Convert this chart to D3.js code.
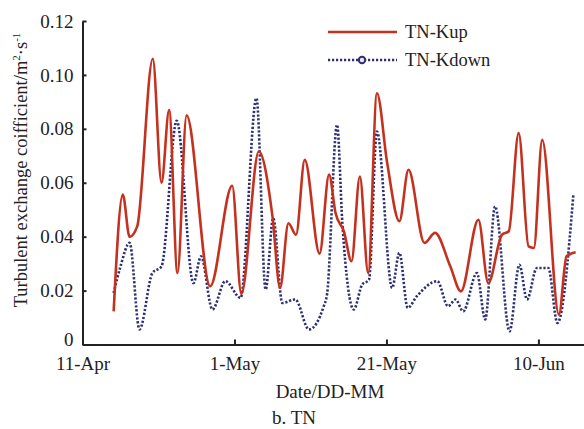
<html>
  <head>
    <title>TN turbulent exchange coefficient</title>
    <script type="text/javascript" src="https://cdn.jsdelivr.net/npm/d3@7"></script>
    <style>
      body { margin: 0; background: white; }
      text { font-family: "Liberation Serif", "Times New Roman", serif; fill: #222; }
    </style>
  </head>
  <body>
    <svg width="584" height="429" id="chart"></svg>
    <script type="text/javascript">
      // days counted from 11-Apr
      var kupDays = [4.1, 5.3, 6.2, 7.2, 9.25, 10.4, 11.4, 12.5, 13.7, 16.8,
        19.7, 20.9, 23.2, 25.0, 26.0, 27.1, 28.1, 29.25, 31.2, 32.45,
        33.3, 34.4, 35.4, 36.5, 37.6, 38.75, 40.1, 41.7, 42.9, 45.0,
        46.4, 48.4, 49.8, 52.1, 53.4, 55.2, 56.1, 57.4, 58.7, 59.4,
        60.5, 62.7, 63.7, 64.9];
      var kupValues = [0.0123, 0.0556, 0.0399, 0.0438, 0.106, 0.060, 0.087, 0.0265, 0.085, 0.0216,
        0.0589, 0.0188, 0.0716, 0.0475, 0.021, 0.045, 0.0407, 0.0685, 0.0337, 0.063,
        0.0488, 0.042, 0.0309, 0.0623, 0.0265, 0.0932, 0.0673, 0.0457, 0.0648, 0.0377,
        0.0414, 0.029, 0.0197, 0.0463, 0.0228, 0.0407, 0.042, 0.0784, 0.0364, 0.0358,
        0.0759, 0.0111, 0.0327, 0.0342];

      var kdownDays = [4.1, 5.0, 6.2, 7.5, 9.2, 10.4, 12.4, 14.6, 15.6, 17.1,
        18.8, 20.8, 22.9, 24.1, 25.1, 26.3, 28.0, 29.8, 31.75, 32.2,
        33.5, 34.2, 35.7, 36.8, 37.7, 38.75, 40.75, 41.7, 42.8, 44.0,
        46.7, 48.1, 49.1, 50.1, 51.9, 53.0, 54.3, 56.2, 57.5, 58.5,
        59.8, 61.3, 62.5, 64.6];
      var kdownValues = [0.0191, 0.029, 0.0377, 0.0056, 0.0265, 0.029, 0.083, 0.0228, 0.0327, 0.013,
        0.0235, 0.0173, 0.0914, 0.0204, 0.0469, 0.0154, 0.0167, 0.0056, 0.0142, 0.019,
        0.0815, 0.045, 0.013, 0.0222, 0.024, 0.079, 0.021, 0.034, 0.0136, 0.0179,
        0.0235, 0.0142, 0.0167, 0.0123, 0.0265, 0.0093, 0.0512, 0.0049, 0.0296, 0.0167,
        0.0284, 0.0284, 0.008, 0.0556];

      var xTickDays = [0, 20, 40, 60];
      var xTickLabels = ["11-Apr", "1-May", "21-May", "10-Jun"];
      var yTicks = [0, 0.02, 0.04, 0.06, 0.08, 0.10, 0.12];

      var red = "#c4321f", navy = "#2c2f72";

      var svg = d3.select("#chart");

      var x = d3.scaleLinear().domain([0, 66]).range([82.5, 584]);
      var y = d3.scaleLinear().domain([0, 0.12]).range([344.5, 21]);

      var yAxis = d3.axisLeft(y)
          .tickValues(yTicks)
          .tickSizeInner(-4)
          .tickSizeOuter(0)
          .tickPadding(9)
          .tickFormat(function(d) { return d === 0 ? "0" : d3.format(".2f")(d); });

      var xAxis = d3.axisBottom(x)
          .tickValues(xTickDays)
          .tickSizeInner(-5)
          .tickSizeOuter(0)
          .tickPadding(12)
          .tickFormat(function(d, i) { return xTickLabels[i]; });

      var gy = svg.append("g")
          .attr("transform", "translate(82.5,0)")
          .call(yAxis);
      var gx = svg.append("g")
          .attr("transform", "translate(0,344.5)")
          .call(xAxis);

      [gx, gy].forEach(function(g) {
        g.selectAll("path, line").attr("stroke", "#222").attr("stroke-width", 2);
        g.selectAll("text")
          .attr("fill", "#222")
          .style("font-family", "'Liberation Serif', serif")
          .style("font-size", "19px");
      });

      // the "0" sits a little above the x axis, clear of "11-Apr"
      gy.selectAll(".tick text")
          .filter(function(d) { return d === 0; })
          .attr("dy", "0.05em");

      var line = d3.line()
          .curve(d3.curveMonotoneX)
          .x(function(d) { return x(d[0]); })
          .y(function(d) { return y(d[1]); });

      var kup = d3.zip(kupDays, kupValues),
          kdown = d3.zip(kdownDays, kdownValues);

      svg.append("path")
          .datum(kdown)
          .attr("d", line)
          .attr("fill", "none")
          .attr("stroke", navy)
          .attr("stroke-width", 2.6)
          .attr("stroke-dasharray", "2.2,1.8");

      svg.append("path")
          .datum(kup)
          .attr("d", line)
          .attr("fill", "none")
          .attr("stroke", red)
          .attr("stroke-width", 2.6)
          .attr("stroke-linejoin", "round");

      // legend
      var legend = svg.append("g");
      legend.append("line")
          .attr("x1", 328).attr("x2", 397).attr("y1", 32).attr("y2", 32)
          .attr("stroke", red).attr("stroke-width", 2.6);
      legend.append("text")
          .attr("x", 405).attr("y", 38)
          .style("font-size", "18.5px")
          .text("TN-Kup");
      legend.append("line")
          .attr("x1", 328).attr("x2", 397).attr("y1", 60).attr("y2", 60)
          .attr("stroke", navy).attr("stroke-width", 2.4)
          .attr("stroke-dasharray", "2.2,1.8");
      legend.append("circle")
          .attr("cx", 362).attr("cy", 60).attr("r", 3.2)
          .attr("fill", "#e8e8f0").attr("stroke", navy).attr("stroke-width", 2);
      legend.append("text")
          .attr("x", 405).attr("y", 66)
          .style("font-size", "18.5px")
          .text("TN-Kdown");

      // axis titles
      svg.append("text")
          .attr("x", 330).attr("y", 398)
          .attr("text-anchor", "middle")
          .style("font-size", "19px")
          .text("Date/DD-MM");

      svg.append("text")
          .attr("x", 294).attr("y", 424)
          .attr("text-anchor", "middle")
          .style("font-size", "19px")
          .text("b. TN");

      var ylab = svg.append("text")
          .attr("transform", "translate(27,170) rotate(-90)")
          .attr("text-anchor", "middle")
          .style("font-size", "18.5px");
      ylab.append("tspan").text("Turbulent exchange coifficient/m");
      ylab.append("tspan").attr("dy", -7).style("font-size", "11px").text("2");
      ylab.append("tspan").attr("dy", 7).text("\u00b7s");
      ylab.append("tspan").attr("dy", -7).style("font-size", "11px").text("-1");
    </script>
  </body>
</html>
